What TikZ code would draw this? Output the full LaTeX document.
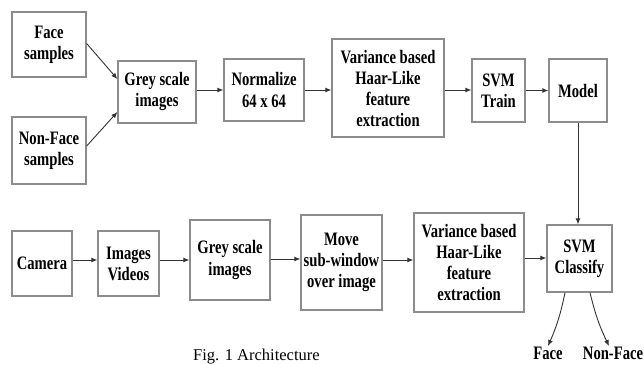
\documentclass[tikz,border=0pt]{standalone}
\usepackage{fontspec}
\setmainfont{Liberation Serif}
\newfontfamily\boxfont[FakeStretch=0.77]{Liberation Serif}
\usetikzlibrary{arrows.meta}
\begin{document}
\begin{tikzpicture}[x=1pt,y=-1pt,
  blk/.style={draw=black!45, line width=1.3pt, fill=white, inner sep=0pt,
    align=center, font=\boxfont\bfseries\fontsize{19}{21}\selectfont},
  lbl/.style={inner sep=1pt, align=center, font=\boxfont\bfseries\fontsize{19}{21}\selectfont},
  arr/.style={draw=black!80, line width=0.9pt, -{Latex[length=6pt,width=5pt]}}]
\useasboundingbox (0,0) rectangle (644,364);
\clip (0,0) rectangle (644,364);
% top row
\node[blk, minimum width=74pt, minimum height=65pt] (face) at (49,44.5) {Face\\samples};
\node[blk, minimum width=74pt, minimum height=67pt] (nonface) at (49,150.5) {Non-Face\\samples};
\node[blk, minimum width=78pt, minimum height=62pt] (grey1) at (157,92) {Grey scale\\images};
\node[blk, minimum width=80pt, minimum height=62pt] (norm) at (264,90) {Normalize\\64 x 64};
\node[blk, minimum width=112pt, minimum height=98pt] (var1) at (388,88) {Variance based\\Haar-Like\\feature\\extraction};
\node[blk, minimum width=53pt, minimum height=63pt] (svmt) at (498.5,90.5) {SVM\\Train};
\node[blk, minimum width=58pt, minimum height=63pt] (model) at (578,90.5) {Model};
% bottom row
\node[blk, minimum width=60pt, minimum height=65pt] (camera) at (42,263.5) {Camera};
\node[blk, minimum width=61pt, minimum height=65pt] (imgvid) at (128.5,263.5) {Images\\Videos};
\node[blk, minimum width=80pt, minimum height=80pt] (grey2) at (230,260) {Grey scale\\images};
\node[blk, minimum width=81pt, minimum height=95pt] (move) at (341.5,262.5) {Move\\sub-window\\over image};
\node[blk, minimum width=110pt, minimum height=99pt] (var2) at (469,262.5) {Variance based\\Haar-Like\\feature\\extraction};
\node[blk, minimum width=65pt, minimum height=67pt] (classify) at (579.5,258.5) {SVM\\Classify};
\node[lbl, anchor=north] (facelbl) at (548,346) {Face};
\node[lbl, anchor=north] (nonfacelbl) at (613,346) {Non-Face};
\node[anchor=base west, inner sep=0pt, font=\fontsize{16.5}{18}\selectfont] (caption) at (193,360) {Fig. 1 Architecture};
% connectors top
\draw[arr] ([yshift=1pt]face.east) -- ([yshift=13pt]grey1.west);
\draw[arr] ([yshift=4.5pt]nonface.east) -- ([yshift=-20pt]grey1.west);
\draw[arr] ([yshift=2pt]grey1.east) -- ([yshift=2pt]grey1.east -| norm.west);
\draw[arr] (norm.east) -- (norm.east -| var1.west);
\draw[arr] ([yshift=-2pt]var1.east) -- ([yshift=-2pt]var1.east -| svmt.west);
\draw[arr] (svmt.east) -- (svmt.east -| model.west);
\draw[arr] (model.south) -- (model.south |- classify.north);
% connectors bottom
\draw[arr] ([yshift=3.5pt]camera.east) -- ([yshift=3.5pt]camera.east -| imgvid.west);
\draw[arr] ([yshift=3.5pt]imgvid.east) -- ([yshift=3.5pt]imgvid.east -| grey2.west);
\draw[arr] ([yshift=1pt]grey2.east) -- ([yshift=1pt]grey2.east -| move.west);
\draw[arr] ([yshift=2.5pt]move.east) -- ([yshift=2.5pt]move.east -| var2.west);
\draw[arr] ([yshift=4.5pt]var2.east) -- ([yshift=4.5pt]var2.east -| classify.west);
\draw[arr] ([xshift=-14.5pt]classify.south) to[bend left=6] (facelbl.north);
\draw[arr] ([xshift=10.5pt]classify.south) to[bend right=6] ([xshift=-4pt]nonfacelbl.north);
\end{tikzpicture}
\end{document}
